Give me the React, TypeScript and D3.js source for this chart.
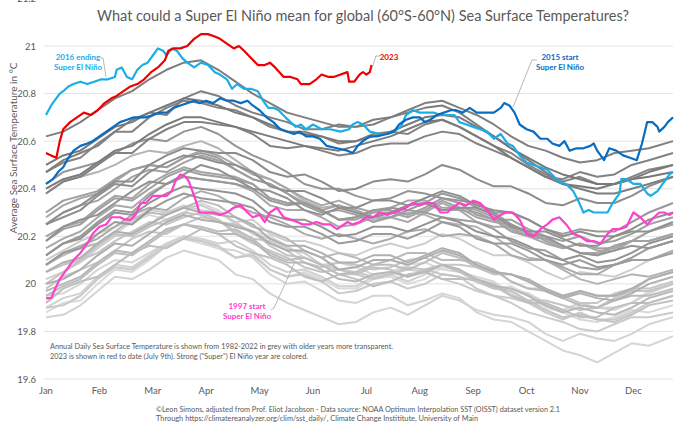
import React from 'react';
import * as d3 from 'd3';

const W = 680;
const H = 431;

const monthLabels = ['Jan', 'Feb', 'Mar', 'Apr', 'May', 'Jun', 'Jul', 'Aug', 'Sep', 'Oct', 'Nov', 'Dec'];
const monthTickDays = [0, 31, 62, 93, 124, 155, 186, 217, 248, 279, 310, 341];
const yTicks = [19.6, 19.8, 20, 20.2, 20.4, 20.6, 20.8, 21, 21.2];

const greyDays = [0, 10, 20, 30, 40, 50, 60, 70, 80, 90, 100, 110, 120, 130, 140, 150, 160, 170, 180, 190,
  200, 210, 220, 230, 240, 250, 260, 270, 280, 290, 300, 310, 320, 330, 340, 350, 364];
const greyYears = [1982, 1983, 1984, 1985, 1986, 1987, 1988, 1989, 1990, 1991, 1992, 1993, 1994, 1995, 1996,
  1998, 1999, 2000, 2001, 2002, 2003, 2004, 2005, 2006, 2007, 2008, 2009, 2010, 2011, 2012, 2013, 2014,
  2017, 2018, 2019, 2020, 2021, 2022];
const greyValues: number[][] = [
  [19.88, 19.92, 19.93, 20.00, 20.06, 20.05, 20.10, 20.16, 20.19, 20.17, 20.15, 20.11, 20.13, 20.06, 20.03, 20.05, 20.02, 19.98, 19.98, 20.02, 20.03, 20.00, 20.02, 20.07, 20.06, 20.01, 19.98, 19.99, 19.95, 19.90, 19.88, 19.91, 19.90, 19.89, 19.92, 19.97, 20.00],
  [20.08, 20.13, 20.16, 20.17, 20.21, 20.26, 20.29, 20.27, 20.30, 20.34, 20.31, 20.25, 20.22, 20.20, 20.16, 20.11, 20.08, 20.09, 20.07, 20.04, 20.05, 20.08, 20.09, 20.06, 20.05, 20.03, 20.01, 19.96, 19.92, 19.91, 19.88, 19.85, 19.84, 19.86, 19.89, 19.88, 19.91],
  [19.95, 19.96, 20.00, 20.06, 20.10, 20.09, 20.13, 20.17, 20.20, 20.18, 20.15, 20.14, 20.11, 20.04, 20.00, 20.01, 19.97, 19.93, 19.92, 19.95, 19.95, 19.91, 19.93, 19.96, 19.94, 19.88, 19.85, 19.84, 19.80, 19.76, 19.72, 19.70, 19.67, 19.71, 19.75, 19.74, 19.78],
  [19.86, 19.87, 19.91, 19.97, 20.03, 20.02, 20.06, 20.11, 20.14, 20.12, 20.10, 20.04, 20.02, 19.96, 19.92, 19.89, 19.86, 19.83, 19.84, 19.88, 19.90, 19.87, 19.91, 19.95, 19.93, 19.89, 19.87, 19.86, 19.84, 19.79, 19.76, 19.79, 19.77, 19.76, 19.79, 19.83, 19.86],
  [19.90, 19.94, 19.96, 20.03, 20.08, 20.07, 20.12, 20.17, 20.20, 20.19, 20.17, 20.18, 20.14, 20.08, 20.05, 20.06, 20.03, 19.99, 19.99, 20.03, 20.04, 20.01, 20.04, 20.08, 20.06, 20.02, 19.99, 19.98, 19.96, 19.92, 19.89, 19.92, 19.90, 19.90, 19.92, 19.96, 20.00],
  [20.02, 20.05, 20.09, 20.15, 20.20, 20.21, 20.25, 20.30, 20.33, 20.31, 20.30, 20.26, 20.27, 20.21, 20.18, 20.18, 20.16, 20.13, 20.12, 20.15, 20.17, 20.15, 20.17, 20.21, 20.19, 20.15, 20.12, 20.12, 20.09, 20.05, 20.02, 20.05, 20.04, 20.03, 20.06, 20.10, 20.14],
  [20.10, 20.14, 20.18, 20.21, 20.24, 20.27, 20.31, 20.30, 20.32, 20.33, 20.30, 20.26, 20.21, 20.19, 20.15, 20.13, 20.08, 20.06, 20.05, 20.03, 20.04, 20.06, 20.05, 20.02, 20.00, 19.97, 19.95, 19.92, 19.88, 19.86, 19.84, 19.81, 19.80, 19.83, 19.86, 19.86, 19.88],
  [19.90, 19.91, 19.95, 20.02, 20.07, 20.06, 20.11, 20.16, 20.19, 20.18, 20.16, 20.11, 20.12, 20.06, 20.03, 20.04, 20.01, 19.96, 19.97, 20.00, 20.01, 19.98, 20.00, 20.04, 20.03, 19.98, 19.95, 19.94, 19.92, 19.88, 19.85, 19.88, 19.85, 19.85, 19.88, 19.92, 19.95],
  [19.98, 20.03, 20.06, 20.09, 20.14, 20.19, 20.22, 20.21, 20.25, 20.28, 20.27, 20.22, 20.19, 20.18, 20.14, 20.09, 20.07, 20.09, 20.08, 20.06, 20.07, 20.10, 20.11, 20.08, 20.08, 20.07, 20.06, 20.01, 19.98, 19.98, 19.95, 19.92, 19.92, 19.96, 19.98, 19.98, 20.01],
  [20.00, 20.05, 20.10, 20.13, 20.18, 20.22, 20.26, 20.25, 20.28, 20.30, 20.27, 20.21, 20.17, 20.14, 20.11, 20.07, 20.05, 20.06, 20.04, 20.02, 20.04, 20.07, 20.06, 20.04, 20.03, 20.01, 19.99, 19.95, 19.93, 19.93, 19.91, 19.89, 19.90, 19.94, 19.97, 19.97, 20.00],
  [20.05, 20.08, 20.10, 20.16, 20.21, 20.20, 20.24, 20.27, 20.30, 20.29, 20.26, 20.25, 20.22, 20.16, 20.12, 20.11, 20.08, 20.04, 20.04, 20.07, 20.06, 20.03, 20.06, 20.08, 20.05, 20.01, 19.98, 19.97, 19.93, 19.89, 19.86, 19.87, 19.85, 19.84, 19.87, 19.91, 19.93],
  [19.92, 19.98, 20.01, 20.03, 20.08, 20.13, 20.16, 20.15, 20.19, 20.23, 20.21, 20.16, 20.13, 20.11, 20.08, 20.03, 20.01, 20.04, 20.02, 19.99, 20.01, 20.04, 20.05, 20.02, 20.02, 20.02, 20.00, 19.95, 19.92, 19.92, 19.89, 19.86, 19.86, 19.90, 19.92, 19.92, 19.95],
  [19.95, 19.99, 20.02, 20.08, 20.13, 20.12, 20.17, 20.22, 20.25, 20.24, 20.22, 20.23, 20.19, 20.13, 20.10, 20.11, 20.08, 20.04, 20.05, 20.08, 20.08, 20.06, 20.09, 20.13, 20.11, 20.07, 20.04, 20.04, 20.01, 19.97, 19.94, 19.97, 19.95, 19.95, 19.97, 20.02, 20.05],
  [20.08, 20.12, 20.15, 20.17, 20.22, 20.27, 20.30, 20.29, 20.32, 20.35, 20.33, 20.28, 20.24, 20.22, 20.19, 20.14, 20.11, 20.13, 20.11, 20.08, 20.10, 20.13, 20.13, 20.10, 20.10, 20.09, 20.06, 20.01, 19.98, 19.97, 19.94, 19.91, 19.90, 19.93, 19.95, 19.95, 19.98],
  [19.97, 20.00, 20.03, 20.09, 20.14, 20.13, 20.18, 20.23, 20.25, 20.23, 20.21, 20.21, 20.18, 20.12, 20.09, 20.09, 20.06, 20.02, 20.01, 20.04, 20.05, 20.03, 20.05, 20.08, 20.06, 20.02, 19.99, 19.98, 19.95, 19.91, 19.88, 19.90, 19.88, 19.87, 19.90, 19.94, 19.97],
  [20.38, 20.43, 20.45, 20.47, 20.50, 20.54, 20.56, 20.55, 20.58, 20.60, 20.57, 20.52, 20.47, 20.44, 20.40, 20.35, 20.32, 20.33, 20.30, 20.27, 20.28, 20.30, 20.29, 20.26, 20.25, 20.24, 20.20, 20.15, 20.11, 20.10, 20.06, 20.02, 20.00, 20.02, 20.04, 20.03, 20.06],
  [20.05, 20.09, 20.11, 20.17, 20.22, 20.21, 20.25, 20.29, 20.32, 20.30, 20.29, 20.28, 20.25, 20.19, 20.16, 20.16, 20.13, 20.09, 20.09, 20.12, 20.12, 20.09, 20.12, 20.15, 20.13, 20.08, 20.05, 20.04, 20.01, 19.97, 19.94, 19.96, 19.94, 19.93, 19.96, 20.00, 20.03],
  [20.00, 20.02, 20.06, 20.12, 20.17, 20.16, 20.21, 20.26, 20.29, 20.27, 20.26, 20.24, 20.22, 20.17, 20.14, 20.14, 20.11, 20.06, 20.07, 20.10, 20.10, 20.08, 20.11, 20.14, 20.12, 20.08, 20.05, 20.04, 20.02, 19.98, 19.95, 19.97, 19.95, 19.95, 19.98, 20.02, 20.05],
  [20.08, 20.13, 20.16, 20.19, 20.24, 20.29, 20.32, 20.31, 20.36, 20.39, 20.37, 20.33, 20.30, 20.28, 20.25, 20.21, 20.19, 20.21, 20.19, 20.17, 20.19, 20.22, 20.23, 20.20, 20.21, 20.20, 20.17, 20.12, 20.10, 20.10, 20.07, 20.04, 20.04, 20.08, 20.10, 20.10, 20.14],
  [20.15, 20.19, 20.22, 20.28, 20.33, 20.32, 20.38, 20.42, 20.45, 20.44, 20.43, 20.42, 20.39, 20.33, 20.31, 20.31, 20.28, 20.24, 20.25, 20.28, 20.28, 20.26, 20.30, 20.34, 20.31, 20.26, 20.24, 20.24, 20.20, 20.17, 20.15, 20.17, 20.14, 20.14, 20.18, 20.22, 20.25],
  [20.28, 20.33, 20.36, 20.38, 20.43, 20.48, 20.50, 20.49, 20.53, 20.56, 20.54, 20.50, 20.46, 20.44, 20.40, 20.36, 20.33, 20.35, 20.32, 20.30, 20.32, 20.35, 20.35, 20.32, 20.32, 20.31, 20.28, 20.23, 20.20, 20.19, 20.16, 20.13, 20.13, 20.16, 20.18, 20.18, 20.21],
  [20.20, 20.24, 20.26, 20.32, 20.37, 20.36, 20.42, 20.46, 20.49, 20.47, 20.46, 20.45, 20.42, 20.36, 20.34, 20.34, 20.31, 20.27, 20.27, 20.30, 20.30, 20.28, 20.31, 20.35, 20.32, 20.28, 20.26, 20.25, 20.22, 20.18, 20.15, 20.17, 20.15, 20.15, 20.18, 20.22, 20.25],
  [20.25, 20.30, 20.33, 20.35, 20.40, 20.45, 20.48, 20.47, 20.51, 20.54, 20.52, 20.48, 20.44, 20.42, 20.38, 20.34, 20.31, 20.33, 20.31, 20.28, 20.30, 20.33, 20.34, 20.31, 20.31, 20.30, 20.27, 20.22, 20.20, 20.19, 20.16, 20.13, 20.12, 20.16, 20.18, 20.18, 20.21],
  [20.18, 20.23, 20.25, 20.31, 20.36, 20.35, 20.40, 20.45, 20.48, 20.46, 20.45, 20.44, 20.42, 20.36, 20.34, 20.34, 20.31, 20.27, 20.28, 20.31, 20.31, 20.29, 20.32, 20.36, 20.34, 20.29, 20.27, 20.27, 20.23, 20.20, 20.18, 20.20, 20.17, 20.18, 20.21, 20.25, 20.28],
  [20.30, 20.35, 20.37, 20.39, 20.44, 20.48, 20.50, 20.49, 20.53, 20.55, 20.53, 20.48, 20.44, 20.42, 20.38, 20.33, 20.30, 20.31, 20.29, 20.26, 20.28, 20.31, 20.30, 20.28, 20.27, 20.26, 20.23, 20.18, 20.15, 20.14, 20.10, 20.07, 20.06, 20.08, 20.10, 20.10, 20.13],
  [20.08, 20.13, 20.15, 20.21, 20.26, 20.25, 20.31, 20.35, 20.38, 20.36, 20.35, 20.34, 20.32, 20.26, 20.24, 20.24, 20.21, 20.17, 20.18, 20.21, 20.21, 20.19, 20.22, 20.26, 20.24, 20.19, 20.17, 20.17, 20.14, 20.10, 20.08, 20.10, 20.07, 20.08, 20.11, 20.15, 20.18],
  [20.12, 20.17, 20.20, 20.26, 20.31, 20.30, 20.37, 20.42, 20.45, 20.44, 20.43, 20.42, 20.40, 20.35, 20.33, 20.34, 20.31, 20.27, 20.28, 20.31, 20.32, 20.31, 20.34, 20.38, 20.36, 20.32, 20.30, 20.30, 20.27, 20.23, 20.21, 20.23, 20.22, 20.22, 20.26, 20.30, 20.34],
  [20.42, 20.47, 20.49, 20.51, 20.55, 20.59, 20.61, 20.60, 20.64, 20.66, 20.63, 20.58, 20.54, 20.51, 20.47, 20.42, 20.40, 20.40, 20.37, 20.35, 20.36, 20.39, 20.38, 20.36, 20.35, 20.34, 20.30, 20.25, 20.21, 20.20, 20.16, 20.13, 20.12, 20.14, 20.16, 20.15, 20.18],
  [20.12, 20.17, 20.19, 20.25, 20.30, 20.29, 20.34, 20.38, 20.41, 20.40, 20.39, 20.38, 20.35, 20.29, 20.27, 20.27, 20.24, 20.20, 20.21, 20.24, 20.24, 20.22, 20.25, 20.28, 20.26, 20.22, 20.20, 20.19, 20.16, 20.12, 20.10, 20.12, 20.09, 20.10, 20.13, 20.17, 20.20],
  [20.18, 20.24, 20.27, 20.29, 20.34, 20.39, 20.43, 20.42, 20.46, 20.50, 20.48, 20.44, 20.40, 20.39, 20.36, 20.31, 20.29, 20.32, 20.30, 20.28, 20.30, 20.33, 20.34, 20.31, 20.32, 20.32, 20.29, 20.24, 20.22, 20.22, 20.19, 20.16, 20.16, 20.20, 20.22, 20.22, 20.26],
  [20.25, 20.28, 20.31, 20.37, 20.42, 20.41, 20.47, 20.51, 20.54, 20.53, 20.51, 20.50, 20.47, 20.41, 20.39, 20.39, 20.36, 20.32, 20.32, 20.35, 20.35, 20.33, 20.36, 20.39, 20.37, 20.33, 20.31, 20.30, 20.27, 20.23, 20.20, 20.22, 20.20, 20.20, 20.23, 20.27, 20.30],
  [20.25, 20.30, 20.33, 20.38, 20.43, 20.43, 20.50, 20.54, 20.57, 20.56, 20.55, 20.55, 20.52, 20.47, 20.45, 20.46, 20.43, 20.39, 20.40, 20.43, 20.44, 20.43, 20.46, 20.50, 20.48, 20.44, 20.41, 20.41, 20.38, 20.34, 20.33, 20.36, 20.34, 20.34, 20.37, 20.41, 20.45],
  [20.47, 20.51, 20.53, 20.59, 20.64, 20.64, 20.70, 20.74, 20.77, 20.76, 20.74, 20.73, 20.70, 20.66, 20.64, 20.64, 20.62, 20.59, 20.60, 20.63, 20.64, 20.63, 20.67, 20.69, 20.66, 20.62, 20.58, 20.55, 20.50, 20.46, 20.43, 20.45, 20.42, 20.42, 20.45, 20.48, 20.50],
  [20.38, 20.43, 20.45, 20.50, 20.55, 20.55, 20.61, 20.65, 20.68, 20.68, 20.67, 20.66, 20.63, 20.58, 20.57, 20.58, 20.56, 20.54, 20.55, 20.58, 20.59, 20.59, 20.62, 20.64, 20.63, 20.59, 20.56, 20.53, 20.49, 20.45, 20.44, 20.47, 20.45, 20.46, 20.50, 20.52, 20.55],
  [20.47, 20.52, 20.55, 20.58, 20.64, 20.69, 20.72, 20.71, 20.78, 20.81, 20.79, 20.75, 20.72, 20.70, 20.68, 20.65, 20.65, 20.67, 20.66, 20.67, 20.70, 20.73, 20.76, 20.77, 20.74, 20.71, 20.67, 20.62, 20.58, 20.56, 20.53, 20.51, 20.52, 20.55, 20.56, 20.57, 20.60],
  [20.62, 20.64, 20.68, 20.73, 20.78, 20.81, 20.86, 20.90, 20.93, 20.94, 20.90, 20.85, 20.80, 20.76, 20.72, 20.70, 20.68, 20.66, 20.66, 20.69, 20.70, 20.72, 20.74, 20.75, 20.72, 20.67, 20.62, 20.57, 20.52, 20.47, 20.42, 20.40, 20.38, 20.38, 20.40, 20.42, 20.45],
  [20.40, 20.44, 20.46, 20.51, 20.56, 20.58, 20.63, 20.67, 20.70, 20.70, 20.68, 20.66, 20.64, 20.62, 20.60, 20.58, 20.57, 20.56, 20.58, 20.60, 20.62, 20.65, 20.68, 20.69, 20.66, 20.62, 20.58, 20.53, 20.49, 20.45, 20.42, 20.41, 20.40, 20.42, 20.44, 20.47, 20.50],
  [20.50, 20.54, 20.56, 20.61, 20.66, 20.68, 20.72, 20.75, 20.78, 20.77, 20.75, 20.72, 20.70, 20.67, 20.64, 20.63, 20.62, 20.60, 20.60, 20.62, 20.64, 20.67, 20.70, 20.71, 20.70, 20.66, 20.62, 20.57, 20.53, 20.49, 20.46, 20.44, 20.42, 20.42, 20.44, 20.45, 20.47],
];

const days1997 = [0, 3, 6, 8, 12, 16, 20, 24, 27, 31, 35, 38, 43, 46, 49, 52, 55, 58, 62, 66, 70, 73, 75, 78, 81, 83, 85, 87, 89, 93, 97, 101, 105, 109, 113, 117, 120, 124, 127, 130, 134, 138, 142, 146, 149, 153, 157, 161, 165, 169, 175, 178, 182, 186, 190, 194, 198, 202, 206, 209, 213, 217, 221, 225, 229, 233, 236, 240, 244, 248, 252, 256, 260, 264, 267, 271, 275, 279, 283, 287, 291, 294, 298, 302, 306, 310, 314, 318, 322, 326, 329, 333, 337, 341, 345, 349, 353, 356, 359, 362, 364];
const temps1997 = [19.94, 19.94, 19.99, 20.02, 20.06, 20.10, 20.13, 20.17, 20.21, 20.24, 20.25, 20.28, 20.28, 20.27, 20.27, 20.29, 20.34, 20.34, 20.37, 20.37, 20.37, 20.39, 20.43, 20.46, 20.45, 20.43, 20.39, 20.35, 20.30, 20.30, 20.30, 20.29, 20.30, 20.32, 20.33, 20.30, 20.28, 20.29, 20.26, 20.30, 20.32, 20.28, 20.27, 20.26, 20.25, 20.25, 20.26, 20.25, 20.25, 20.23, 20.26, 20.25, 20.26, 20.28, 20.28, 20.30, 20.29, 20.30, 20.31, 20.32, 20.34, 20.33, 20.34, 20.34, 20.30, 20.30, 20.32, 20.34, 20.33, 20.35, 20.34, 20.31, 20.27, 20.29, 20.30, 20.30, 20.27, 20.21, 20.20, 20.23, 20.25, 20.27, 20.28, 20.25, 20.21, 20.20, 20.18, 20.18, 20.17, 20.21, 20.23, 20.23, 20.24, 20.30, 20.28, 20.25, 20.28, 20.30, 20.30, 20.29, 20.30];

const days2016 = [0, 3, 5, 8, 10, 13, 16, 20, 24, 28, 32, 36, 40, 41, 44, 47, 50, 53, 56, 59, 62, 65, 68, 70, 73, 76, 79, 82, 86, 90, 94, 98, 101, 105, 108, 111, 115, 119, 123, 126, 129, 132, 135, 139, 142, 145, 148, 151, 155, 160, 165, 171, 176, 178, 181, 184, 188, 194, 198, 202, 206, 209, 213, 217, 221, 225, 229, 233, 237, 240, 244, 248, 252, 256, 260, 264, 268, 271, 275, 279, 283, 287, 291, 295, 298, 302, 306, 309, 312, 315, 318, 322, 326, 329, 333, 334, 337, 341, 345, 349, 351, 355, 358, 362, 364];
const temps2016 = [20.71, 20.75, 20.77, 20.80, 20.81, 20.83, 20.84, 20.85, 20.84, 20.85, 20.86, 20.86, 20.87, 20.90, 20.91, 20.87, 20.86, 20.90, 20.92, 20.93, 20.96, 20.99, 20.98, 20.96, 20.99, 20.98, 20.95, 20.93, 20.91, 20.93, 20.92, 20.89, 20.88, 20.86, 20.82, 20.84, 20.82, 20.82, 20.81, 20.77, 20.74, 20.74, 20.73, 20.70, 20.68, 20.66, 20.67, 20.65, 20.67, 20.65, 20.65, 20.64, 20.65, 20.67, 20.68, 20.67, 20.64, 20.63, 20.63, 20.64, 20.66, 20.71, 20.73, 20.72, 20.72, 20.72, 20.71, 20.71, 20.71, 20.68, 20.67, 20.66, 20.65, 20.64, 20.61, 20.63, 20.59, 20.58, 20.54, 20.51, 20.50, 20.49, 20.48, 20.45, 20.43, 20.42, 20.39, 20.35, 20.30, 20.31, 20.30, 20.30, 20.30, 20.34, 20.38, 20.44, 20.44, 20.42, 20.42, 20.38, 20.37, 20.39, 20.42, 20.46, 20.47];

const days2015 = [0, 4, 7, 10, 13, 16, 20, 24, 27, 31, 35, 39, 43, 47, 51, 55, 58, 62, 66, 70, 74, 78, 82, 86, 89, 93, 97, 101, 105, 109, 113, 117, 120, 124, 128, 132, 136, 140, 144, 147, 151, 155, 159, 163, 169, 175, 178, 181, 184, 188, 192, 198, 202, 205, 209, 213, 217, 220, 223, 227, 231, 235, 238, 242, 246, 250, 256, 260, 264, 266, 269, 272, 275, 279, 283, 287, 291, 294, 298, 301, 304, 308, 312, 316, 318, 320, 324, 327, 331, 335, 339, 343, 346, 349, 352, 355, 356, 359, 361, 364];
const temps2015 = [20.42, 20.44, 20.47, 20.49, 20.53, 20.56, 20.58, 20.59, 20.60, 20.62, 20.64, 20.66, 20.68, 20.69, 20.70, 20.70, 20.70, 20.71, 20.72, 20.72, 20.74, 20.75, 20.76, 20.77, 20.76, 20.77, 20.76, 20.78, 20.77, 20.77, 20.76, 20.77, 20.75, 20.73, 20.70, 20.68, 20.65, 20.64, 20.63, 20.64, 20.62, 20.62, 20.61, 20.58, 20.57, 20.56, 20.55, 20.58, 20.60, 20.62, 20.62, 20.63, 20.64, 20.67, 20.69, 20.70, 20.70, 20.68, 20.69, 20.71, 20.72, 20.73, 20.73, 20.72, 20.74, 20.72, 20.72, 20.72, 20.74, 20.76, 20.75, 20.72, 20.67, 20.65, 20.64, 20.61, 20.61, 20.59, 20.58, 20.60, 20.56, 20.57, 20.57, 20.58, 20.59, 20.56, 20.52, 20.57, 20.56, 20.54, 20.53, 20.52, 20.59, 20.68, 20.68, 20.66, 20.64, 20.66, 20.68, 20.70];

const days2023 = [0, 3, 6, 8, 10, 14, 18, 22, 26, 30, 34, 38, 41, 45, 49, 53, 57, 61, 65, 69, 71, 74, 78, 82, 86, 90, 94, 98, 101, 105, 109, 112, 115, 119, 123, 127, 130, 133, 138, 142, 146, 148, 153, 157, 160, 164, 167, 171, 175, 176, 179, 182, 184, 186, 188, 189];
const temps2023 = [20.55, 20.54, 20.53, 20.60, 20.65, 20.68, 20.70, 20.72, 20.71, 20.73, 20.76, 20.78, 20.79, 20.81, 20.83, 20.84, 20.86, 20.89, 20.91, 20.94, 20.98, 20.99, 20.99, 21.00, 21.03, 21.05, 21.05, 21.04, 21.03, 21.01, 20.99, 21.00, 20.98, 20.95, 20.92, 20.92, 20.93, 20.91, 20.87, 20.87, 20.86, 20.84, 20.84, 20.86, 20.88, 20.87, 20.87, 20.88, 20.89, 20.85, 20.85, 20.88, 20.89, 20.88, 20.89, 20.92];

const FONT = 'Lato, "Open Sans", sans-serif';
const TXT = '#595959';

export default function App() {
  const x = d3.scaleLinear().domain([0, 364]).range([46, 673]);
  const y = d3.scaleLinear().domain([19.6, 21]).range([379, 46]);
  const line = d3.line<[number, number]>().x(d => x(d[0])).y(d => y(d[1]));
  const greyColor = (yr: number) => d3.interpolateRgb('#dadada', '#787878')((yr - 1982) / 40);
  const pairs = (ds: number[], vs: number[]) => ds.map((d, i) => [d, vs[i]] as [number, number]);
  const highlight = [
    { d: days1997, v: temps1997, c: '#ff40cc' },
    { d: days2016, v: temps2016, c: '#1aaee8' },
    { d: days2015, v: temps2015, c: '#0a6cbf' },
    { d: days2023, v: temps2023, c: '#ee0000' },
  ];
  return (
    <svg width={W} height={H} style={{ position: 'absolute', left: 0, top: 0, background: '#fff' }} fontFamily={FONT}>
      <text x={363} y={21} fontSize={15.5} fill={TXT} textAnchor="middle" textLength={532} lengthAdjust="spacingAndGlyphs">
        What could a Super El Niño mean for global (60°S-60°N) Sea Surface Temperatures?
      </text>
      {yTicks.map(t => (
        <g key={t}>
          <line x1={44} x2={673} y1={y(t)} y2={y(t)} stroke="#e3e3e3" strokeWidth={1} />
          <text x={36} y={y(t) + 3.5} fontSize={9.5} fill={TXT} textAnchor="end">{d3.format('~g')(t)}</text>
        </g>
      ))}
      {monthLabels.map((m, i) => (
        <text key={m} x={x(monthTickDays[i])} y={394} fontSize={9.5} fill={TXT} textAnchor="middle">{m}</text>
      ))}
      <text transform="translate(17,148) rotate(-90)" fontSize={10} fill={TXT} textAnchor="middle">
        Average Sea Surface Temperature in °C
      </text>
      <g fill="none" strokeLinejoin="round">
        {greyYears.map((yr, i) => (
          <path key={yr} d={line(pairs(greyDays, greyValues[i])) || ''} stroke={greyColor(yr)} strokeWidth={2} />
        ))}
        {highlight.map((h, i) => (
          <path key={i} d={line(pairs(h.d, h.v)) || ''} stroke={h.c} strokeWidth={2.2} />
        ))}
      </g>
      <g fill="none" stroke="#a6a6a6" strokeWidth={0.8}>
        <polyline points="100,58 103,58 106,77" />
        <polyline points="380,56 376,56 372,68" />
        <polyline points="537,60 532,60 513,107" />
        <polyline points="271,310 274,308 295,262" />
      </g>
      <g fontSize={8} fontWeight="bold" textAnchor="middle">
        <text x={78} y={60} fill="#1aaee8">2016 ending</text>
        <text x={78} y={70} fill="#1aaee8">Super El Niño</text>
        <text x={389} y={60} fill="#ee0000">2023</text>
        <text x={560} y={60} fill="#0a6cbf">2015 start</text>
        <text x={560} y={70} fill="#0a6cbf">Super El Niño</text>
        <text x={247} y={309} fill="#ff40cc">1997 start</text>
        <text x={247} y={319} fill="#ff40cc">Super El Niño</text>
      </g>
      <g fontSize={8.3} fill={TXT}>
        <text x={50} y={348.5} textLength={343} lengthAdjust="spacingAndGlyphs">Annual Daily Sea Surface Temperature is shown from 1982-2022 in grey with older years more transparent.</text>
        <text x={50} y={358.5} textLength={258} lengthAdjust="spacingAndGlyphs">2023 is shown in red to date (July 9th). Strong ("Super") El Niño year are colored.</text>
      </g>
      <g fontSize={7.8} fill={TXT}>
        <text x={156} y={411.5} textLength={404} lengthAdjust="spacingAndGlyphs">©Leon Simons, adjusted from Prof. Eliot Jacobson - Data source: NOAA Optimum Interpolation SST (OISST) dataset version 2.1</text>
        <text x={156} y={421} textLength={322} lengthAdjust="spacingAndGlyphs">Through https://climatereanalyzer.org/clim/sst_daily/, Climate Change Instititute, University of Main</text>
      </g>
    </svg>
  );
}
